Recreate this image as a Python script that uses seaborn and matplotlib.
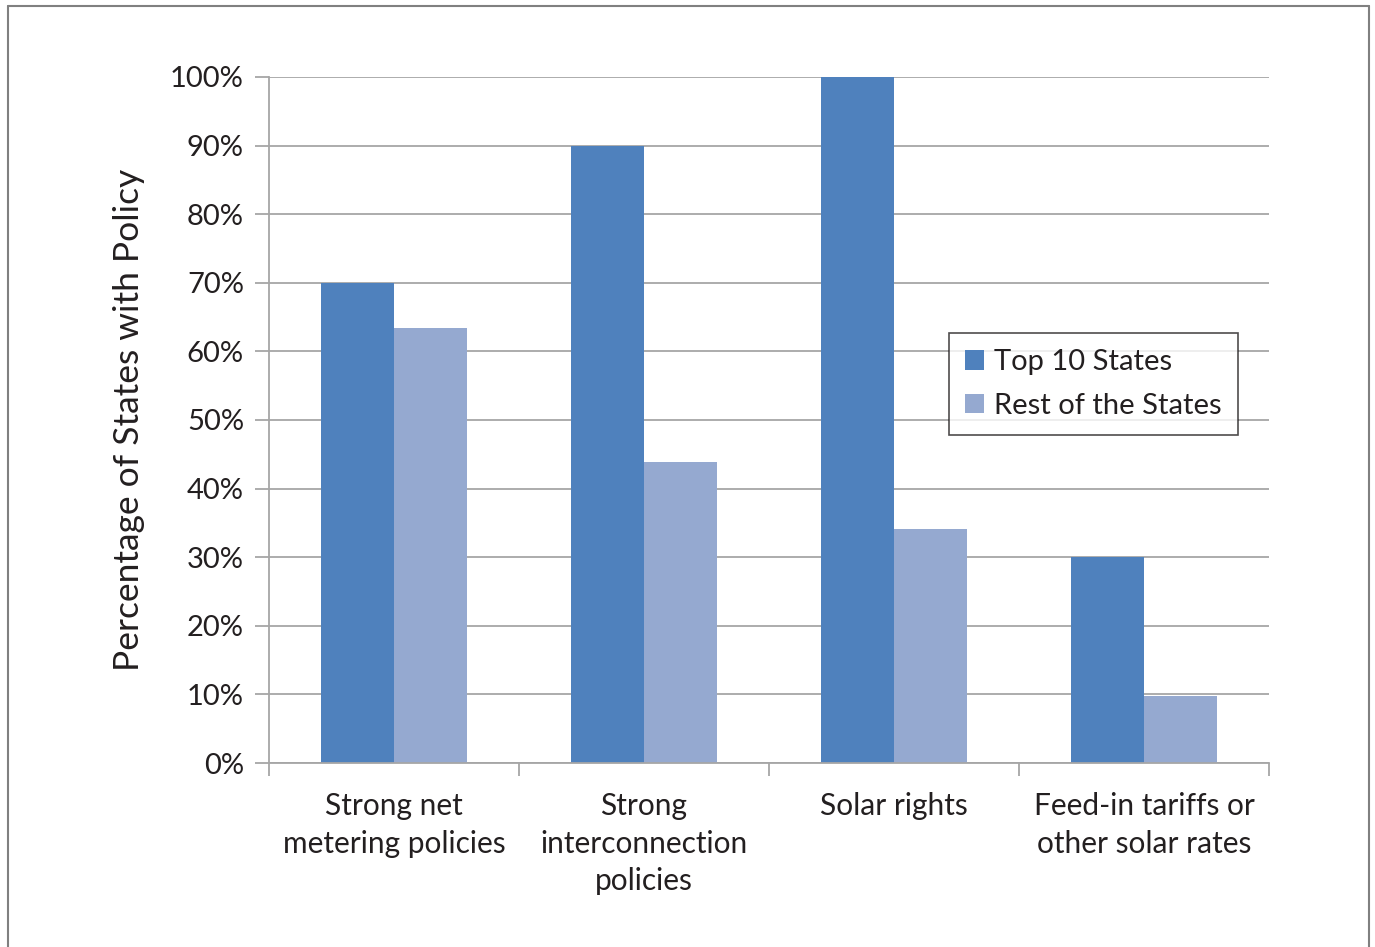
import matplotlib
matplotlib.use("Agg")
import matplotlib.pyplot as plt
from matplotlib.lines import Line2D
import seaborn as sns
import pandas as pd

categories = ["Strong net\nmetering policies", "Strong\ninterconnection\npolicies",
              "Solar rights", "Feed-in tariffs or\nother solar rates"]
series_names = ["Top 10 States", "Rest of the States"]
top10 = [70, 90, 100, 30]
rest = [63.4, 43.9, 34.1, 9.8]
yticks = [0, 10, 20, 30, 40, 50, 60, 70, 80, 90, 100]
colors = ["#4F81BD", "#95A9D0"]

sns.set_theme(style="white")
plt.rcParams['font.family'] = ['Lato', 'DejaVu Sans']

df = pd.DataFrame({
    "category": categories * 2,
    "series": [series_names[0]] * 4 + [series_names[1]] * 4,
    "value": top10 + rest,
})

W, H = 1375, 947
fig = plt.figure(figsize=(W / 100, H / 100), dpi=100)
ax = fig.add_axes([269 / W, 1 - 763 / H, 1000 / W, 686 / H])

sns.barplot(data=df, x="category", y="value", hue="series", palette=colors,
            width=0.584, gap=0, saturation=1, ax=ax, edgecolor="none", linewidth=0)

ax.set_ylim(0, 100)
ax.set_xlim(-0.5, 3.5)
ax.set_yticks(yticks)
ax.set_yticklabels([f"{v}%" for v in yticks], fontsize=21, color="#231f20")
ax.set_axisbelow(True)
ax.yaxis.grid(True, color="#a6a6a6", linewidth=1.3)
ax.xaxis.grid(False)

ax.set_xticks([0, 1, 2, 3])
ax.set_xticklabels(categories, fontsize=21.5, color="#231f20", linespacing=1.42)
ax.set_xticks([-0.5, 0.5, 1.5, 2.5, 3.5], minor=True)
ax.tick_params(axis="x", which="major", length=0, pad=21)
ax.tick_params(axis="x", which="minor", length=9, width=1.3, color="#a6a6a6", direction="out", bottom=True)
ax.tick_params(axis="y", length=10, width=1.3, color="#a6a6a6", pad=8, left=True)

for s in ["top", "right"]:
    ax.spines[s].set_visible(False)
for s in ["left", "bottom"]:
    ax.spines[s].set_color("#a6a6a6")
    ax.spines[s].set_linewidth(1.3)

ax.set_xlabel("")
ax.set_ylabel("Percentage of States with Policy", fontsize=25.5, color="#231f20", labelpad=18)

leg = ax.legend(loc="upper left", bbox_to_anchor=(680 / 1000, 1 - (333 - 77) / 686),
                borderaxespad=0,
                fontsize=21, frameon=True, fancybox=False, edgecolor="#231f20",
                handlelength=0.65, handleheight=0.65, handletextpad=0.35,
                labelspacing=0.6, borderpad=0.55)
leg.get_frame().set_linewidth(1.2)
for t in leg.get_texts():
    t.set_color("#231f20")

# outer frame
fig.add_artist(Line2D([8 / W, 8 / W], [0, 1 - 6 / H], color="#808080", linewidth=1.5, transform=fig.transFigure))
fig.add_artist(Line2D([8 / W, 1369 / W], [1 - 6 / H, 1 - 6 / H], color="#808080", linewidth=1.5, transform=fig.transFigure))
fig.add_artist(Line2D([1369 / W, 1369 / W], [0, 1 - 6 / H], color="#808080", linewidth=1.5, transform=fig.transFigure))

fig.savefig("out.png", dpi=100, facecolor="white")
